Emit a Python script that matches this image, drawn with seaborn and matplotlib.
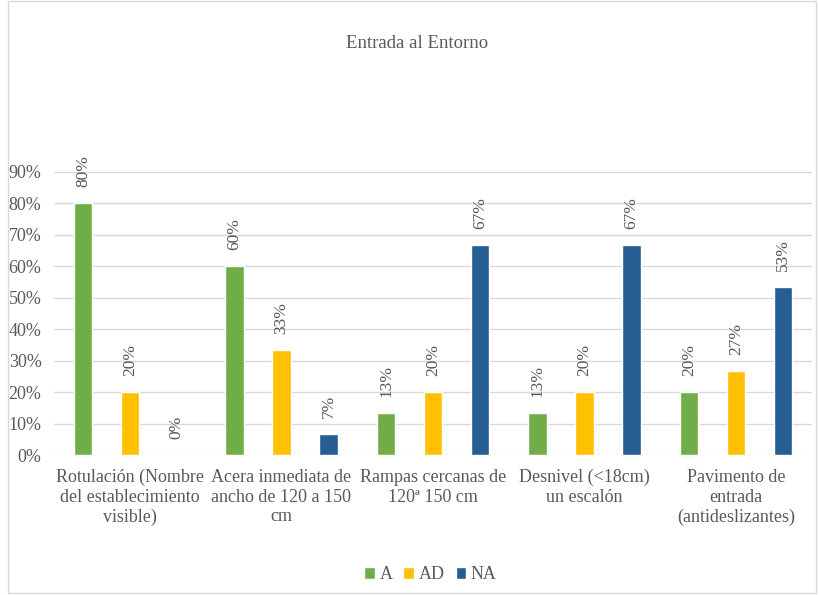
import pandas as pd
import matplotlib.pyplot as plt
import seaborn as sns
from matplotlib.patches import Rectangle

categories = [
    "Rotulación (Nombre\ndel establecimiento\nvisible)",
    "Acera inmediata de\nancho de 120 a 150\ncm",
    "Rampas cercanas de\n120ª 150 cm",
    "Desnivel (<18cm)\nun escalón",
    "Pavimento de\nentrada\n(antideslizantes)",
]
series = ["A", "AD", "NA"]
val_a = [0.80, 0.60, 0.133, 0.133, 0.20]
val_ad = [0.20, 0.333, 0.20, 0.20, 0.267]
val_na = [0.00, 0.067, 0.667, 0.667, 0.533]
colors = ["#70AD47", "#FFC000", "#255E91"]

rows = []
for s, vals in zip(series, [val_a, val_ad, val_na]):
    for c, v in zip(categories, vals):
        rows.append({"cat": c, "serie": s, "valor": v})
df = pd.DataFrame(rows)

sns.set_style("white")
plt.rcParams['font.family'] = ['Liberation Serif', 'DejaVu Serif']
txt = "#595959"

fig = plt.figure(figsize=(8.2, 5.95), dpi=100)
ax = fig.add_axes([0.066, 0.235, 0.924, 0.476])

sns.barplot(data=df, x="cat", y="valor", hue="serie", palette=colors,
            saturation=1, width=0.93, gap=0.61, ax=ax, legend=True)

for cont in ax.containers:
    labels = [f"{v*100:.0f}%" for v in cont.datavalues]
    ax.bar_label(cont, labels=labels, rotation=90, padding=11.5,
                 fontsize=12.5, color=txt)

ax.set_ylim(0, 0.9)
ax.set_yticks([i / 10 for i in range(10)])
ax.set_yticklabels([f"{i*10}%" for i in range(10)], fontsize=13, color=txt)
ax.set_xlim(-0.5, 4.5)
ax.tick_params(axis="x", labelsize=13, colors=txt, length=0, pad=10)
ax.tick_params(axis="y", length=0, pad=9)
ax.set_xlabel("")
ax.set_ylabel("")
ax.yaxis.grid(True, color="#D9D9D9", linewidth=1)
ax.set_axisbelow(True)
for sp in ax.spines.values():
    sp.set_visible(False)

handles, labs = ax.get_legend_handles_labels()
ax.get_legend().remove()
fig.legend(handles, labs, loc="center", bbox_to_anchor=(0.525, 0.034), ncol=3,
           frameon=False, fontsize=13, handlelength=0.6, handleheight=0.6,
           handletextpad=0.25, columnspacing=0.6, labelcolor=txt)

fig.text(0.509, 0.927, "Entrada al Entorno", ha="center", va="center",
         fontsize=13.5, color=txt)

fig.patches.append(Rectangle((0.01, 0.003), 0.985, 0.995, transform=fig.transFigure,
                             fill=False, edgecolor="#D9D9D9", linewidth=1))

fig.savefig("out.png", dpi=100)
